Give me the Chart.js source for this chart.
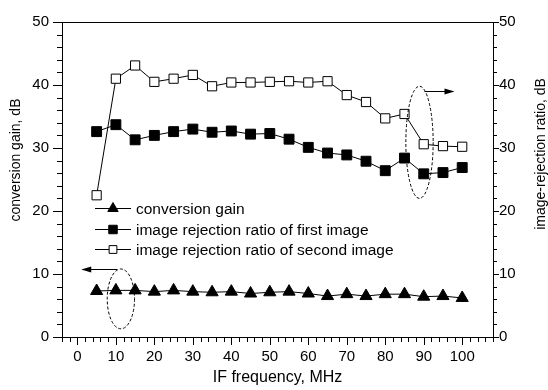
<!DOCTYPE html>
<html>
<head>
<meta charset="utf-8">
<script src="https://cdn.jsdelivr.net/npm/chart.js@4.4.0/dist/chart.umd.min.js"></script>
<style>
    html, body { margin: 0; padding: 0; background: #fff; }
    #wrap { width: 548px; height: 390px; }
</style>
</head>
<body>
<div id="wrap"><canvas id="chart" width="548" height="390"></canvas></div>
<script>
// Datos
const ifFrequency = [5, 10, 15, 20, 25, 30, 35, 40, 45, 50, 55, 60, 65, 70, 75, 80, 85, 90, 95, 100];
const conversionGain = [7.3, 7.4, 7.4, 7.2, 7.4, 7.2, 7.1, 7.2, 6.9, 7.1, 7.2, 6.9, 6.5, 6.8, 6.5, 6.8, 6.8, 6.4, 6.5, 6.2];
const irrFirstImage = [32.6, 33.7, 31.3, 32.0, 32.6, 33.0, 32.5, 32.7, 32.2, 32.3, 31.4, 30.1, 29.2, 28.9, 27.9, 26.4, 28.4, 25.9, 26.1, 26.9];
const irrSecondImage = [22.5, 41.0, 43.1, 40.5, 41.0, 41.6, 39.8, 40.4, 40.4, 40.5, 40.6, 40.4, 40.6, 38.4, 37.3, 34.7, 35.4, 30.6, 30.3, 30.2];

const seriesLabels = ['conversion gain', 'image rejection ratio of first image', 'image rejection ratio of second image'];
const xTitle = 'IF frequency, MHz';
const yLeftTitle = 'conversion gain, dB';
const yRightTitle = 'image-rejection ratio, dB';

// Elipses y flechas de la figura (coordenadas de datos)
const callouts = [
    { cx: 88.9, cy: 30.9, rx: 3.55, ry: 8.9, ax1: 90.2, ax2: 98.0, ay: 39.0 },
    { cx: 11.3, cy: 6.05, rx: 3.55, ry: 4.75, ax1: 10.3, ax2: 1.0, ay: 10.8 }
];

const FONT = '"Liberation Sans", Arial, Helvetica, sans-serif';
Chart.defaults.font.family = FONT;
Chart.defaults.color = '#000';

function toPoints(values) {
    return ifFrequency.map((f, i) => ({ x: f, y: values[i] }));
}

// Marcas de los ejes (mayores cada 10, menores cada 2)
const tickMarks = {
    id: 'tickMarks',
    afterDraw(chart) {
        const ctx = chart.ctx;
        const area = chart.chartArea;
        const { x, y, y2 } = chart.scales;
        ctx.save();
        ctx.strokeStyle = '#000';
        ctx.lineWidth = 1;
        ctx.beginPath();
        for (let v = x.min; v <= x.max + 0.001; v += 2) {
            const px = Math.round(x.getPixelForValue(v)) + 0.5;
            const len = (Math.round(v) % 10 === 0) ? 8 : 5;
            ctx.moveTo(px, area.bottom);
            ctx.lineTo(px, area.bottom + len);
        }
        for (let v = y.min; v <= y.max + 0.001; v += 2) {
            const py = Math.round(y.getPixelForValue(v)) + 0.5;
            const len = (v % 10 === 0) ? 9 : 5;
            ctx.moveTo(area.left, py);
            ctx.lineTo(area.left - len, py);
        }
        for (let v = y2.min; v <= y2.max + 0.001; v += 2) {
            const py = Math.round(y2.getPixelForValue(v)) + 0.5;
            const len = (v % 10 === 0) ? 6 : 4;
            ctx.moveTo(area.right, py);
            ctx.lineTo(area.right + len, py);
        }
        // marco superior
        ctx.moveTo(area.left, Math.round(area.top) + 0.5);
        ctx.lineTo(area.right, Math.round(area.top) + 0.5);
        ctx.stroke();

        // títulos de los ejes
        ctx.fillStyle = '#000';
        ctx.textAlign = 'center';
        ctx.textBaseline = 'middle';
        ctx.font = '16px ' + FONT;
        ctx.fillText(xTitle, (area.left + area.right) / 2, 378);
        ctx.font = '14px ' + FONT;
        ctx.save();
        ctx.translate(16, 160);
        ctx.rotate(-Math.PI / 2);
        ctx.fillText(yLeftTitle, 0, 0);
        ctx.restore();
        ctx.save();
        ctx.translate(541, 154);
        ctx.rotate(-Math.PI / 2);
        ctx.fillText(yRightTitle, 0, 0);
        ctx.restore();
        ctx.restore();
    }
};

// Elipses punteadas y flechas
const calloutPlugin = {
    id: 'callouts',
    afterDatasetsDraw(chart) {
        const ctx = chart.ctx;
        const { x, y } = chart.scales;
        ctx.save();
        ctx.strokeStyle = '#000';
        ctx.fillStyle = '#000';
        ctx.lineWidth = 1;
        callouts.forEach(c => {
            const cx = x.getPixelForValue(c.cx);
            const cy = y.getPixelForValue(c.cy);
            const rx = Math.abs(x.getPixelForValue(c.cx + c.rx) - cx);
            const ry = Math.abs(y.getPixelForValue(c.cy + c.ry) - cy);
            ctx.setLineDash([3, 2]);
            ctx.beginPath();
            ctx.ellipse(cx, cy, rx, ry, 0, 0, Math.PI * 2);
            ctx.stroke();
            ctx.setLineDash([]);
            const x1 = x.getPixelForValue(c.ax1);
            const x2 = x.getPixelForValue(c.ax2);
            const ay = Math.round(y.getPixelForValue(c.ay)) + 0.5;
            const dir = Math.sign(x2 - x1);
            ctx.beginPath();
            ctx.moveTo(x1, ay);
            ctx.lineTo(x2 - dir * 8, ay);
            ctx.stroke();
            ctx.beginPath();
            ctx.moveTo(x2, ay);
            ctx.lineTo(x2 - dir * 10, ay - 3);
            ctx.lineTo(x2 - dir * 10, ay + 3);
            ctx.closePath();
            ctx.fill();
        });
        ctx.restore();
    }
};

// Leyenda dentro del área del gráfico
const innerLegend = {
    id: 'innerLegend',
    afterDraw(chart) {
        const ctx = chart.ctx;
        const rows = [207.5, 228.5, 249];
        ctx.save();
        ctx.font = '15.5px ' + FONT;
        ctx.textBaseline = 'middle';
        ctx.textAlign = 'left';
        chart.data.datasets.forEach((ds, i) => {
            const yy = Math.round(rows[i]) + 0.5;
            ctx.strokeStyle = '#000';
            ctx.lineWidth = 1;
            ctx.beginPath();
            ctx.moveTo(95, yy);
            ctx.lineTo(131, yy);
            ctx.stroke();
            ctx.fillStyle = ds.pointBackgroundColor;
            ctx.strokeStyle = ds.pointBorderColor;
            Chart.helpers.drawPoint(ctx, {
                pointStyle: ds.pointStyle,
                radius: ds.pointRadius - 1,
                borderWidth: 1,
                rotation: 0
            }, 113, yy);
            ctx.fillStyle = '#000';
            ctx.fillText(ds.label, 136, yy + 1);
        });
        ctx.restore();
    }
};

const datasets = [
    {
        label: seriesLabels[0],
        data: toPoints(conversionGain),
        yAxisID: 'y',
        pointStyle: 'triangle',
        pointRadius: 7,
        pointBackgroundColor: '#000',
        pointBorderColor: '#000'
    },
    {
        label: seriesLabels[1],
        data: toPoints(irrFirstImage),
        yAxisID: 'y2',
        pointStyle: 'rect',
        pointRadius: 7,
        pointBackgroundColor: '#000',
        pointBorderColor: '#000'
    },
    {
        label: seriesLabels[2],
        data: toPoints(irrSecondImage),
        yAxisID: 'y2',
        pointStyle: 'rect',
        pointRadius: 6.5,
        pointBackgroundColor: '#fff',
        pointBorderColor: '#000'
    }
];
datasets.forEach(ds => {
    ds.borderColor = '#000';
    ds.borderWidth = 1;
    ds.pointBorderWidth = 1;
    ds.tension = 0;
    ds.fill = false;
});

const tickFont = { size: 15, family: FONT };

new Chart(document.getElementById('chart').getContext('2d'), {
    type: 'line',
    data: { datasets: datasets },
    options: {
        responsive: false,
        animation: false,
        layout: { padding: { top: 15, left: 0, right: 0, bottom: 0 } },
        plugins: {
            legend: { display: false },
            tooltip: { enabled: false }
        },
        scales: {
            x: {
                type: 'linear',
                min: -4,
                max: 108,
                grid: { display: false, drawTicks: false },
                border: { display: true, color: '#000', width: 1 },
                ticks: { stepSize: 10, includeBounds: false, padding: 11, font: tickFont, color: '#000' },
                afterFit(scale) { scale.height = 53; }
            },
            y: {
                position: 'left',
                min: 0,
                max: 50,
                grid: { display: false, drawTicks: false },
                border: { display: true, color: '#000', width: 1 },
                ticks: { stepSize: 10, padding: 13, font: tickFont, color: '#000' },
                afterFit(scale) { scale.width = 62; }
            },
            y2: {
                position: 'right',
                min: 0,
                max: 50,
                grid: { display: false, drawTicks: false },
                border: { display: true, color: '#000', width: 1 },
                ticks: { stepSize: 10, padding: 6, font: tickFont, color: '#000' },
                afterFit(scale) { scale.width = 55; }
            }
        }
    },
    plugins: [tickMarks, calloutPlugin, innerLegend]
});
</script>
</body>
</html>
